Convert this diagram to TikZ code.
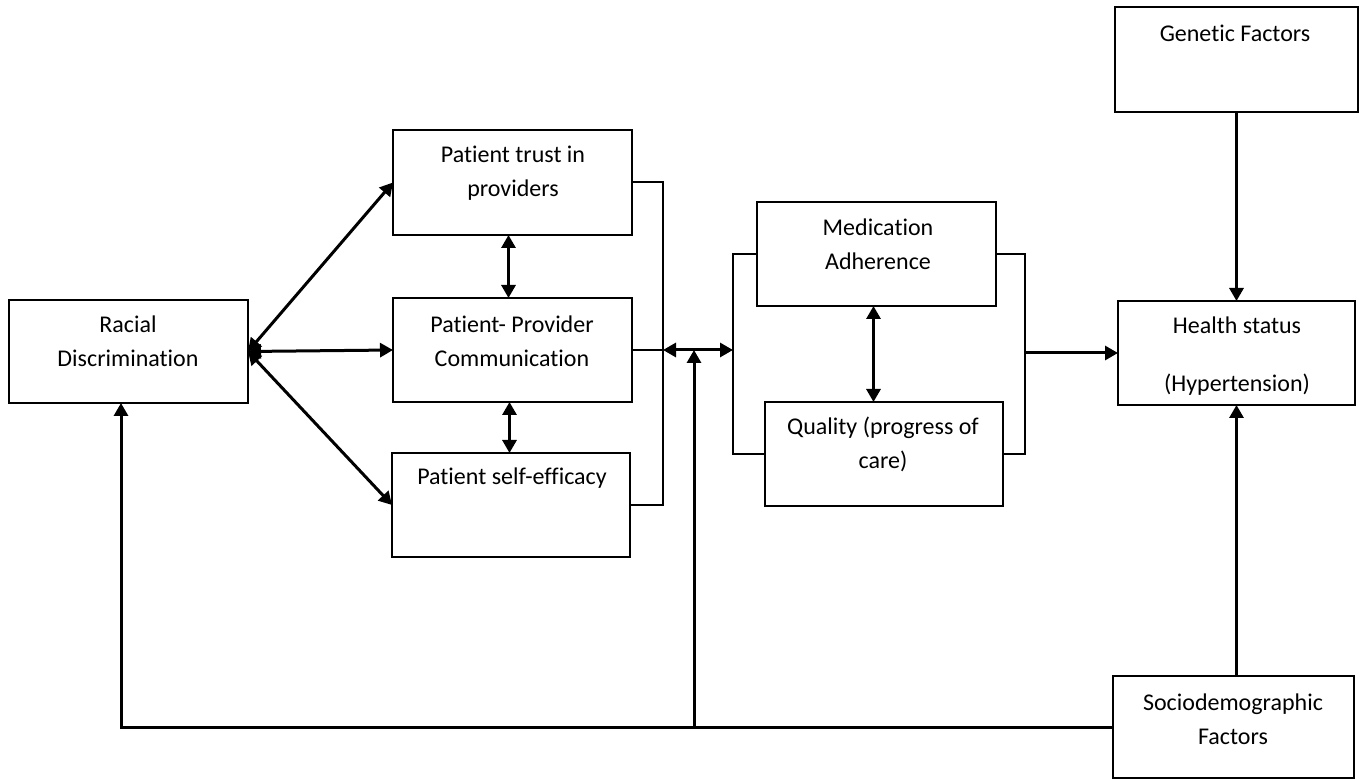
\documentclass[tikz,border=0pt]{standalone}
\usepackage{fontspec}
\setmainfont[Ligatures=NoCommon]{Carlito}
\usetikzlibrary{arrows.meta}

\begin{document}
\begin{tikzpicture}[x=0.5pt,y=-0.5pt,
  box/.style={draw,line width=1.2pt,inner sep=0pt,outer sep=0pt,
    minimum width=119.5pt,minimum height=52pt},
  txt/.style={align=center,font=\fontsize{12}{17}\selectfont,inner sep=0pt},
  link/.style={line width=1pt},
  arr/.style={line width=1.5pt,-{Triangle[length=6.5pt,width=7pt]}},
  darr/.style={line width=1.5pt,{Triangle[length=6.5pt,width=7pt]}-{Triangle[length=6.5pt,width=7pt]}}]

\useasboundingbox (0,0) rectangle (1361,780);

% ===== Boxes =====
\node[box,minimum height=51.5pt] (racial) at (128.5,351.5) {};
\node[box,minimum height=52.5pt] (trust) at (512.5,182.5) {};
\node[box] (comm) at (512.5,350) {};
\node[box,minimum width=119pt] (self) at (511,505) {};
\node[box] (med) at (876.5,254) {};
\node[box,minimum width=119pt] (qual) at (884,454) {};
\node[box,minimum width=118.5pt] (health) at (1236.5,353) {};
\node[box,minimum width=121.5pt,minimum height=52.5pt] (genetic) at (1236.5,59.5) {};
\node[box,minimum width=120.5pt,minimum height=51pt] (socio) at (1233.5,727) {};

% ===== Texts =====
\node[txt] (racial-t) at (128,341.5) {Racial\\Discrimination};
\node[txt] (trust-t) at (513,173) {Patient trust in\\providers};
\node[txt] (comm-t) at (512,341) {Patient- Provider\\Communication};
\node[txt] (self-t) at (512,478) {Patient self-efficacy};
\node[txt] (med-t) at (878,244) {Medication\\Adherence};
\node[txt] (qual-t) at (883,444.5) {Quality (progress of\\care)};
\node[txt] (health-t) at (1237,356) {Health status\\[12pt](Hypertension)};
\node[txt] (genetic-t) at (1235,33) {Genetic Factors};
\node[txt] (socio-t) at (1233,719) {Sociodemographic\\Factors};

% ===== Junctions =====
\coordinate (jL) at (663,350);
\coordinate (jR) at (733,350);
\coordinate (jH) at (1025,353);
\coordinate (jB) at (694,727);

% ===== Racial discrimination links =====
\draw[darr] (racial.east) -- (trust.west);
\draw[darr] (racial.east) -- (comm.west);
\draw[darr] (racial.east) -- (self.west);

% ===== Vertical links =====
\draw[darr] ([xshift=-2pt]trust.south) -- ([xshift=-2pt]comm.north);
\draw[darr] ([xshift=-1.5pt]comm.south) -- ([xshift=-1.5pt]comm.south |- self.north);
\draw[darr] ([xshift=-1.5pt]med.south) -- ([xshift=-1.5pt]med.south |- qual.north);

% ===== Brackets =====
\draw[link] (trust.east) -| (jL) |- (self.east);
\draw[link] (comm.east) -- (jL);
\draw[link] (med.west) -| (jR) |- (qual.west);
\draw[link] (med.east) -| (jH) |- (qual.east);
\draw[darr] (jL) -- (jR);
\draw[arr] (jH) -- (health.west);

% ===== Outer factors =====
\draw[arr] (genetic.south) -- (health.north);
\draw[arr] (health.south |- socio.north) -- (health.south);
\draw[arr] (socio.west) -| ([xshift=-3.75pt]racial.south);
\draw[arr] (jB) -- (jB |- jL);

\end{tikzpicture}
\end{document}
